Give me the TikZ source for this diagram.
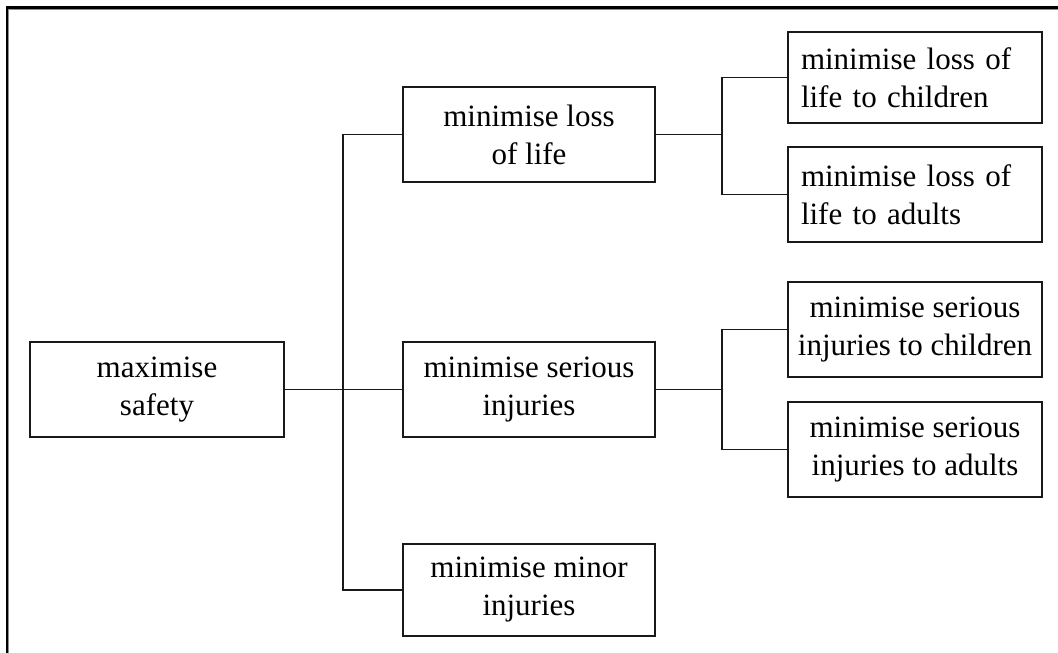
\documentclass[tikz,border=0pt]{standalone}
\usepackage{fontspec}
\setmainfont{Liberation Serif}
\begin{document}
\begin{tikzpicture}[x=0.75pt,y=-0.75pt,
  goal/.style={draw=black!90, line width=1.3pt, inner sep=2pt,
    minimum width=190.5pt, minimum height=71.25pt, align=center,
    font=\fontsize{23.25pt}{28.5pt}\selectfont},
  midgoal/.style={goal, minimum width=189pt},
  leftgoal/.style={goal, align=left, text width=171pt, inner xsep=9.75pt},
  link/.style={draw=black!90, line width=1.3pt}]
\useasboundingbox (0,0) rectangle (1058,653);
\fill[white] (0,0) rectangle (1058,653);
% outer frame (top and left edges only)
\draw[line width=0.75pt, black!45] (8.8,653) -- (8.8,9.3) -- (1058,9.3);
\draw[line width=1.6pt, black] (7,653) -- (7,7.5) -- (1058,7.5);

% root
\node[goal] (safe) at (157,389.5) {maximise\\safety};
% second level
\node[midgoal] (life) at (529,134.5) {minimise loss\\of life};
\node[midgoal] (serious) at (529,389.5) {minimise serious\\injuries};
\node[midgoal, minimum height=69pt] (minor) at (529,590) {minimise minor\\injuries};
% third level
\node[leftgoal, minimum height=68.25pt] (lchild) at (915,77.5) {minimise loss of\\life to children};
\node[leftgoal] (ladult) at (915,194.5) {minimise loss of\\life to adults};
\node[goal] (schild) at (915,329.5) {minimise serious\\injuries to children};
\node[goal] (sadult) at (915,449.5) {minimise serious\\injuries to adults};

% branch points
\coordinate (trunk) at (343,389.5);
\coordinate (bl) at (722,134.5);
\coordinate (bs) at (722,389.5);

% connectors
\draw[link] (safe.east) -- (serious.west);
\draw[link] (life.west) -| (trunk) |- (minor.west);
\draw[link] (life.east) -- (bl);
\draw[link] (lchild.west) -| (bl) |- (ladult.west);
\draw[link] (serious.east) -- (bs);
\draw[link] (schild.west) -| (bs) |- (sadult.west);
\end{tikzpicture}
\end{document}
